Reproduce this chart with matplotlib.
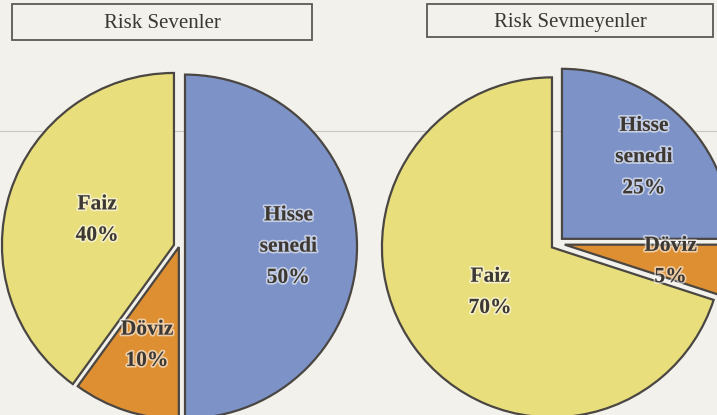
import matplotlib.pyplot as plt
import matplotlib.patheffects as pe
from matplotlib.patches import Rectangle
import numpy as np

# values
titles = ['Risk Sevenler', 'Risk Sevmeyenler']
categories = ['Hisse\nsenedi', 'Döviz', 'Faiz']
sevenler = [50, 10, 40]
sevmeyenler = [25, 5, 70]

colours = ['#7d93c8', '#de8f32', '#e9de7c']
W, H = 717, 415

plt.rcParams['font.family'] = ['Liberation Serif', 'DejaVu Serif']

fig = plt.figure(figsize=(W / 100, H / 100), dpi=100)
fig.patch.set_facecolor('#f3f1ec')
ax = fig.add_axes([0, 0, 1, 1])
ax.set_facecolor('#f3f1ec')


def draw_pie(values, centre, radius, explode, label_dist):
    # explode is in data units (pixels here), pie does not scale it by radius
    wedges, _ = ax.pie(values, colors=colours, startangle=90, counterclock=False,
                       center=centre, radius=radius, explode=explode,
                       wedgeprops=dict(edgecolor='#4a4642', linewidth=1.6))
    for w, name, v, d in zip(wedges, categories, values, label_dist):
        mid = np.deg2rad((w.theta1 + w.theta2) / 2)
        x = w.center[0] + d * w.r * np.cos(mid)
        y = w.center[1] + d * w.r * np.sin(mid)
        ax.text(x, y, f'{name}\n{v}%', ha='center', va='center',
                fontsize=15.5, fontweight='bold', color='#3d3832',
                linespacing=1.75,
                path_effects=[pe.withStroke(linewidth=2.5, foreground=(1, 1, 1, 0.55))])
    return wedges


draw_pie(sevenler, (179, H - 246.6), 172, [6, 0.5, 5.3], [0.6, 0.6, 0.47])
draw_pie(sevmeyenler, (557.3, H - 243.5), 170, [6.6, 7.5, 6.6], [0.68, 0.63, 0.45])

# title boxes
boxes = [(12, 4, 300, 36), (427, 4, 286, 33)]
for (bx, by, bw, bh), t in zip(boxes, titles):
    ax.add_patch(Rectangle((bx, H - by - bh), bw, bh, fill=False,
                           edgecolor='#5c5a57', linewidth=1.3))
    ax.text(bx + bw / 2, H - by - bh / 2 - 1.5, t, ha='center', va='center',
            fontsize=15, color='#3a3734')

# faint scan line across the page
ax.axhline(H - 131, color='#c9c6c0', linewidth=0.8, zorder=0)

ax.set_aspect('equal')
ax.set_xlim(0, W)
ax.set_ylim(0, H)
ax.axis('off')

fig.savefig('out.png', dpi=100, facecolor=fig.get_facecolor())
